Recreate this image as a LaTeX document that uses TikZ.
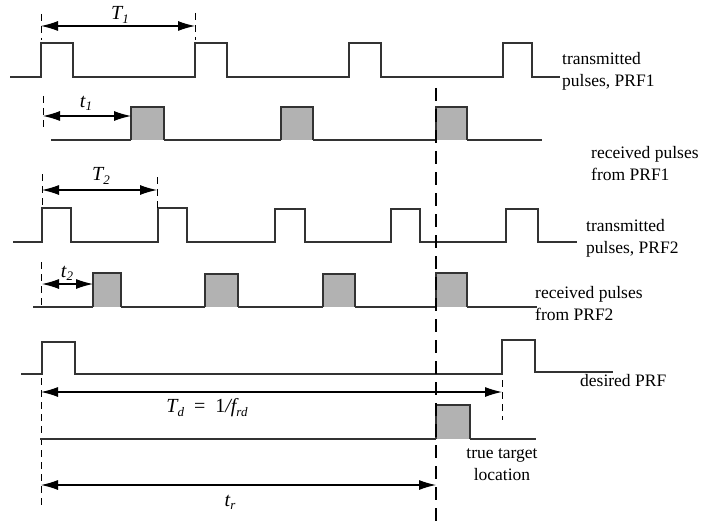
\documentclass[tikz,border=0pt]{standalone}
\usepackage{fontspec}
\setmainfont{Liberation Serif}
\newfontfamily\libserif{Liberation Serif}
\usetikzlibrary{arrows.meta}
\newcommand{\mysub}[1]{\raisebox{-0.35ex}{\fontsize{13}{13}\selectfont #1}}
\begin{document}
\begin{tikzpicture}[x=1pt,y=-1pt,
  wave/.style={line width=1.4pt,draw=black!80},
  rx/.style={wave,fill=black!30},
  tick/.style={line width=1pt,dash pattern=on 7pt off 5pt},
  dim/.style={line width=1.1pt,{Latex[length=17pt,width=10pt]}-{Latex[length=17pt,width=10pt]}},
  lab/.style={font=\libserif\fontsize{17.5}{22}\selectfont,align=left,anchor=west,inner sep=0pt},
  mlab/.style={font=\libserif\fontsize{20}{22}\selectfont\itshape,inner sep=0pt}]
\useasboundingbox (0,0) rectangle (704,524);
% Row 1: transmitted PRF1
\draw[wave] (10,77) -- (41,77) -- (41,43) -- (73,43) -- (73,77) -- (195,77) -- (195,43) -- (227,43) -- (227,77)
  -- (349,77) -- (349,43) -- (381,43) -- (381,77) -- (503,77) -- (503,43) -- (532,43) -- (532,77) -- (560,77);
\node[lab] (l1) at (562,71) {transmitted\\pulses, PRF1};
\draw[tick] (41,14) -- (41,40);
\draw[tick] (195,13) -- (195,40);
\coordinate (a1) at (41,26); \coordinate (b1) at (195,26);
\draw[dim] (a1) -- (b1);
\node[mlab] (T1) at (120,15) {T\mysub{1}};
% Row 2: received PRF1
\draw[wave] (51,140) -- (131,140);
\draw[rx] (131,140) -- (131,107) -- (164,107) -- (164,140);
\draw[wave] (164,140) -- (281,140);
\draw[rx] (281,140) -- (281,107) -- (313,107) -- (313,140);
\draw[wave] (313,140) -- (436,140);
\draw[rx] (436,140) -- (436,107) -- (467,107) -- (467,140);
\draw[wave] (467,140) -- (542,140);
\node[lab] (l2) at (591,164) {received pulses\\from PRF1};
\draw[tick] (43,96) -- (43,130);
\coordinate (a2) at (43,116); \coordinate (b2) at (131,116);
\draw[dim] (a2) -- (b2);
\node[mlab] (t1) at (86,103) {t\mysub{1}};
% Row 3: transmitted PRF2
\draw[wave] (13,242) -- (42,242) -- (42,208) -- (71,208) -- (71,242) -- (158,242) -- (158,208) -- (187,208) -- (187,242)
  -- (275,242) -- (275,209) -- (305,209) -- (305,242) -- (391,242) -- (391,209) -- (420,209) -- (420,242)
  -- (506,242) -- (506,209) -- (538,209) -- (538,242) -- (577,242);
\node[lab] (l3) at (586,238) {transmitted\\pulses, PRF2};
\draw[tick] (42,174) -- (42,206);
\draw[tick] (157,177) -- (157,210);
\coordinate (a3) at (42,190); \coordinate (b3) at (157,190);
\draw[dim] (a3) -- (b3);
\node[mlab] (T2) at (101,176) {T\mysub{2}};
% Row 4: received PRF2
\draw[wave] (33,307) -- (93,307);
\draw[rx] (93,307) -- (93,273) -- (121,273) -- (121,307);
\draw[wave] (121,307) -- (205,307);
\draw[rx] (205,307) -- (205,274) -- (238,274) -- (238,307);
\draw[wave] (238,307) -- (323,307);
\draw[rx] (323,307) -- (323,274) -- (355,274) -- (355,307);
\draw[wave] (355,307) -- (436,307);
\draw[rx] (436,307) -- (436,273) -- (467,273) -- (467,307);
\draw[wave] (467,307) -- (537,307);
\node[lab] (l4) at (535,304) {received pulses\\from PRF2};
\draw[tick] (41,262) -- (41,306);
\coordinate (a4) at (42,284); \coordinate (b4) at (93,284);
\draw[dim] (a4) -- (b4);
\node[mlab] (t2) at (67,273) {t\mysub{2}};
% Row 5: desired PRF
\draw[wave] (21,374) -- (42,374) -- (42,342) -- (75,342) -- (75,374) -- (502,374) -- (502,340) -- (535,340) -- (535,372) -- (613,372);
\node[lab] (l5) at (580,381) {desired PRF};
\draw[tick] (41,378) -- (41,505);
\draw[tick] (502,380) -- (502,420);
\coordinate (a5) at (41,392); \coordinate (b5) at (502,392);
\draw[dim] (a5) -- (b5);
\node[mlab] (Td) at (207,408) {T\mysub{\itshape d}\ \ {\upshape =}\ \ {\upshape 1}/f\mysub{\itshape rd}};
% Row 6: true target
\draw[wave] (40,439) -- (436,439);
\draw[rx] (436,439) -- (436,405) -- (470,405) -- (470,439);
\draw[wave] (470,439) -- (536,439);
\node[lab,align=center,anchor=center] (l6) at (502,465) {true target\\location};
\coordinate (a6) at (41,485); \coordinate (b6) at (436,485);
\draw[dim] (a6) -- (b6);
\node[mlab] (tr) at (230,502) {t\mysub{\itshape r}};
% true target dashed line
\coordinate (d1) at (436,88); \coordinate (d2) at (436,524);
\draw[line width=2pt,dash pattern=on 13pt off 8pt] (d1) -- (d2);
\end{tikzpicture}
\end{document}
